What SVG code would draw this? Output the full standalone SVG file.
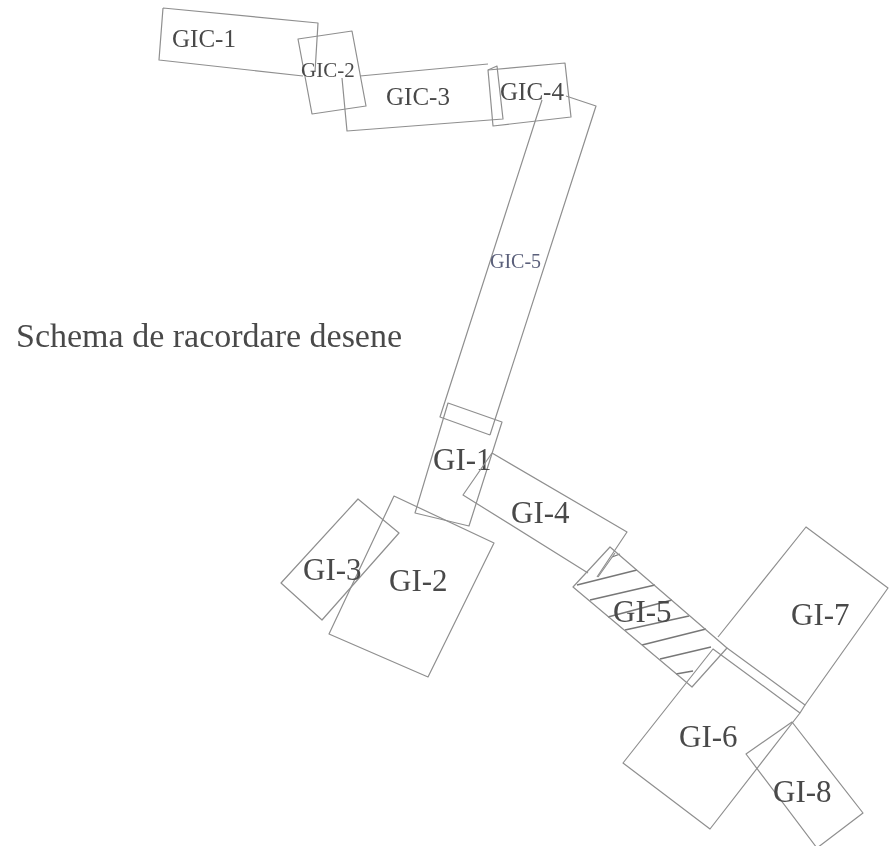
<svg xmlns="http://www.w3.org/2000/svg" width="889" height="846" viewBox="0 0 889 846">
<style>
.s{fill:none;stroke:#8f8f8f;stroke-width:1.2;stroke-linejoin:round}
.h{fill:none;stroke:#777;stroke-width:1.3}
text{font-family:"Liberation Serif","Times New Roman",serif;fill:#4a4a4a}
.a{font-size:25px}
.b{font-size:31px}
</style>
<defs><filter id="soft" x="-5%" y="-5%" width="110%" height="110%"><feGaussianBlur stdDeviation="0.35"/></filter></defs>
<rect width="889" height="846" fill="#fff"/>
<g filter="url(#soft)">
<g id="connectors">
<path class="h" d="M577 585L637 570M590 600L655 585M608 617L672 600M625 630L689 616M642 645L706 629M660 659L711 647M676 674L693 671M612 557L620 554"/>
</g>
<g id="GIC-1"><path class="s" d="M163 8L318 23L315 72M303 76L159 60L163 8"/><text class="a" x="172" y="47">GIC-1</text></g>
<g id="GIC-2"><path class="s" d="M298 39L352 31L366 106L312 114Z"/><text x="301" y="77" font-size="21">GIC-2</text></g>
<g id="GIC-3"><path class="s" d="M360 76L488 64M488 70L497 66L503 119L347 131L342 78"/><text class="a" x="386" y="105">GIC-3</text></g>
<g id="GIC-4"><path class="s" d="M488 70L565 63L571 117L493 126Z"/><text class="a" x="500" y="100">GIC-4</text></g>
<g id="GIC-5"><path class="s" d="M542 100L440 417L490 435M566 96L596 106L490 435"/><text x="490" y="268" font-size="20" style="fill:#5a5f7a">GIC-5</text></g>
<g id="GI-1"><path class="s" d="M448 403L502 422L469 526L415 513L448 403Z"/><text class="b" x="433" y="470">GI-1</text></g>
<g id="GI-2"><path class="s" d="M394 496L494 543L428 677L329 634Z"/><text class="b" x="389" y="591">GI-2</text></g>
<g id="GI-3"><path class="s" d="M358 499L399 533L322 620L281 583Z"/><text class="b" x="303" y="580">GI-3</text></g>
<g id="GI-4"><path class="s" d="M492 453L627 532L597 577M588 573L463 495L492 453"/><text class="b" x="511" y="523">GI-4</text></g>
<g id="GI-5"><path class="s" d="M615 553L598 577M610 547L573 587L692 687L727 648L610 547Z"/><text class="b" x="613" y="622">GI-5</text></g>
<g id="GI-6"><path class="s" d="M713 649L800 713L710 829L623 763Z"/><text class="b" x="679" y="747">GI-6</text></g>
<g id="GI-7"><path class="s" d="M718 637L806 527L888 588L805 705L727 648"/><path class="s" d="M800 713L805 705"/><text class="b" x="791" y="625">GI-7</text></g>
<g id="GI-8"><path class="s" d="M792 722L746 754L817 848L863 813Z"/><text class="b" x="773" y="802">GI-8</text></g>
<text x="16" y="347" font-size="34">Schema de racordare desene</text>
</g>
</svg>
